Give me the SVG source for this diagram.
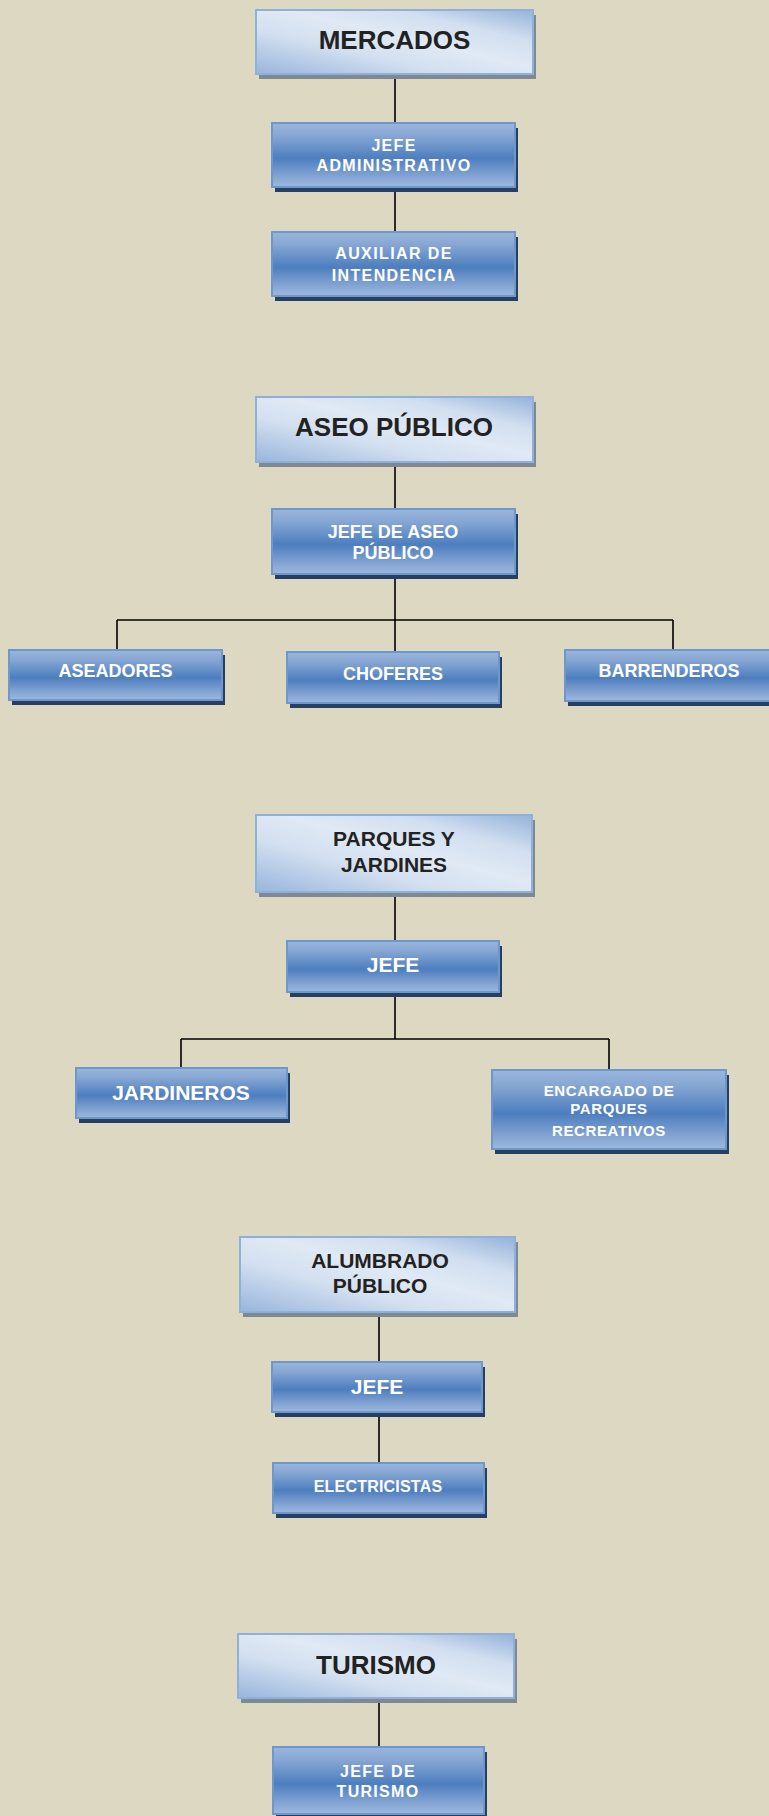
<svg xmlns="http://www.w3.org/2000/svg" width="769" height="1816" viewBox="0 0 769 1816">
  <defs>
    <!-- pale header boxes: dark corners bottom-left and top-right, light band across -->
    <linearGradient id="gHead" x1="0" y1="1" x2="1" y2="0">
      <stop offset="0" stop-color="#98b5dc"/>
      <stop offset="0.35" stop-color="#d3e0f0"/>
      <stop offset="0.55" stop-color="#e0e9f5"/>
      <stop offset="0.75" stop-color="#d2dff0"/>
      <stop offset="1" stop-color="#94b2da"/>
    </linearGradient>
    <!-- blue position boxes: light top and bottom, saturated middle -->
    <linearGradient id="gPos" x1="0" y1="0" x2="0" y2="1">
      <stop offset="0" stop-color="#9ab6dd"/>
      <stop offset="0.2" stop-color="#86a6d3"/>
      <stop offset="0.55" stop-color="#4d7ebf"/>
      <stop offset="0.85" stop-color="#86a6d3"/>
      <stop offset="1" stop-color="#9cb9de"/>
    </linearGradient>
  </defs>
  <style>
    .head { fill: url(#gHead); stroke: #8fb0da; stroke-width: 2; }
    .headShadow { fill: #7f8992; }
    .pos { fill: url(#gPos); stroke: #6e97cb; stroke-width: 2; }
    .posShadow { fill: #263f63; }
    .ht { font-family: "Liberation Sans", Arial, sans-serif; font-weight: bold; fill: #222222; text-anchor: middle; }
    .pt { font-family: "Liberation Sans", Arial, sans-serif; font-weight: bold; fill: #ffffff; text-anchor: middle; }
    .link { stroke: #000000; stroke-width: 1.6; fill: none; }
  </style>

  <rect x="0" y="0" width="769" height="1816" fill="#ddd8c2"/>

  <!-- connectors -->
  <g id="connectors" class="link">
    <path d="M395 74V123M395 187V232"/>
    <path d="M395 462V509M395 574V652M117 620H673M117 620V650M673 620V650"/>
    <path d="M395 892V941M395 992V1039M181 1039H609M181 1039V1068M609 1039V1070"/>
    <path d="M379 1312V1362M379 1412V1463"/>
    <path d="M379 1698V1747"/>
  </g>

  <!-- MERCADOS -->
  <g id="mercados">
    <rect class="headShadow" x="259" y="15" width="277" height="64"/>
    <rect class="head" x="256" y="10" width="277" height="64"/>
    <text class="ht" x="394.5" y="49" font-size="26">MERCADOS</text>
  </g>
  <g id="jefe-administrativo">
    <rect class="posShadow" x="275" y="128" width="243" height="64"/>
    <rect class="pos" x="272" y="123" width="243" height="64"/>
    <text class="pt" font-size="16" letter-spacing="1.3"><tspan x="394" y="151">JEFE</tspan><tspan x="394" y="171">ADMINISTRATIVO</tspan></text>
  </g>
  <g id="auxiliar-intendencia">
    <rect class="posShadow" x="275" y="237" width="243" height="64"/>
    <rect class="pos" x="272" y="232" width="243" height="64"/>
    <text class="pt" font-size="16" letter-spacing="1.4"><tspan x="394" y="259">AUXILIAR DE</tspan><tspan x="394" y="281">INTENDENCIA</tspan></text>
  </g>

  <!-- ASEO PÚBLICO -->
  <g id="aseo-publico">
    <rect class="headShadow" x="259" y="402" width="277" height="65"/>
    <rect class="head" x="256" y="397" width="277" height="65"/>
    <text class="ht" x="394" y="436" font-size="26">ASEO PÚBLICO</text>
  </g>
  <g id="jefe-aseo">
    <rect class="posShadow" x="275" y="514" width="243" height="65"/>
    <rect class="pos" x="272" y="509" width="243" height="65"/>
    <text class="pt" font-size="18"><tspan x="393" y="538">JEFE DE ASEO</tspan><tspan x="393" y="559">PÚBLICO</tspan></text>
  </g>
  <g id="aseadores">
    <rect class="posShadow" x="12" y="655" width="213" height="50"/>
    <rect class="pos" x="9" y="650" width="213" height="50"/>
    <text class="pt" x="115.5" y="677" font-size="18">ASEADORES</text>
  </g>
  <g id="choferes">
    <rect class="posShadow" x="290" y="657" width="212" height="51"/>
    <rect class="pos" x="287" y="652" width="212" height="51"/>
    <text class="pt" x="393" y="680" font-size="18">CHOFERES</text>
  </g>
  <g id="barrenderos">
    <rect class="posShadow" x="568" y="655" width="220" height="51"/>
    <rect class="pos" x="565" y="650" width="220" height="51"/>
    <text class="pt" x="669" y="677" font-size="18">BARRENDEROS</text>
  </g>

  <!-- PARQUES Y JARDINES -->
  <g id="parques-jardines">
    <rect class="headShadow" x="259" y="820" width="276" height="77"/>
    <rect class="head" x="256" y="815" width="276" height="77"/>
    <text class="ht" font-size="21"><tspan x="394" y="846">PARQUES Y</tspan><tspan x="394" y="872">JARDINES</tspan></text>
  </g>
  <g id="jefe-parques">
    <rect class="posShadow" x="290" y="946" width="212" height="51"/>
    <rect class="pos" x="287" y="941" width="212" height="51"/>
    <text class="pt" x="393" y="972" font-size="21">JEFE</text>
  </g>
  <g id="jardineros">
    <rect class="posShadow" x="79" y="1073" width="211" height="50"/>
    <rect class="pos" x="76" y="1068" width="211" height="50"/>
    <text class="pt" x="181" y="1100" font-size="21">JARDINEROS</text>
  </g>
  <g id="encargado-parques">
    <rect class="posShadow" x="495" y="1075" width="234" height="79"/>
    <rect class="pos" x="492" y="1070" width="234" height="79"/>
    <text class="pt" font-size="15" letter-spacing="0.6"><tspan x="609" y="1096">ENCARGADO DE</tspan><tspan x="609" y="1114">PARQUES</tspan><tspan x="609" y="1136">RECREATIVOS</tspan></text>
  </g>

  <!-- ALUMBRADO PÚBLICO -->
  <g id="alumbrado-publico">
    <rect class="headShadow" x="243" y="1242" width="275" height="75"/>
    <rect class="head" x="240" y="1237" width="275" height="75"/>
    <text class="ht" font-size="21"><tspan x="380" y="1268">ALUMBRADO</tspan><tspan x="380" y="1293">PÚBLICO</tspan></text>
  </g>
  <g id="jefe-alumbrado">
    <rect class="posShadow" x="275" y="1367" width="210" height="50"/>
    <rect class="pos" x="272" y="1362" width="210" height="50"/>
    <text class="pt" x="377" y="1394" font-size="21">JEFE</text>
  </g>
  <g id="electricistas">
    <rect class="posShadow" x="276" y="1468" width="211" height="50"/>
    <rect class="pos" x="273" y="1463" width="211" height="50"/>
    <text class="pt" x="378" y="1492" font-size="16" letter-spacing="0.2">ELECTRICISTAS</text>
  </g>

  <!-- TURISMO -->
  <g id="turismo">
    <rect class="headShadow" x="241" y="1639" width="276" height="64"/>
    <rect class="head" x="238" y="1634" width="276" height="64"/>
    <text class="ht" x="376" y="1674" font-size="26">TURISMO</text>
  </g>
  <g id="jefe-turismo">
    <rect class="posShadow" x="276" y="1752" width="211" height="67"/>
    <rect class="pos" x="273" y="1747" width="211" height="67"/>
    <text class="pt" font-size="16" letter-spacing="1.3"><tspan x="378" y="1777">JEFE DE</tspan><tspan x="378" y="1797">TURISMO</tspan></text>
  </g>
</svg>
